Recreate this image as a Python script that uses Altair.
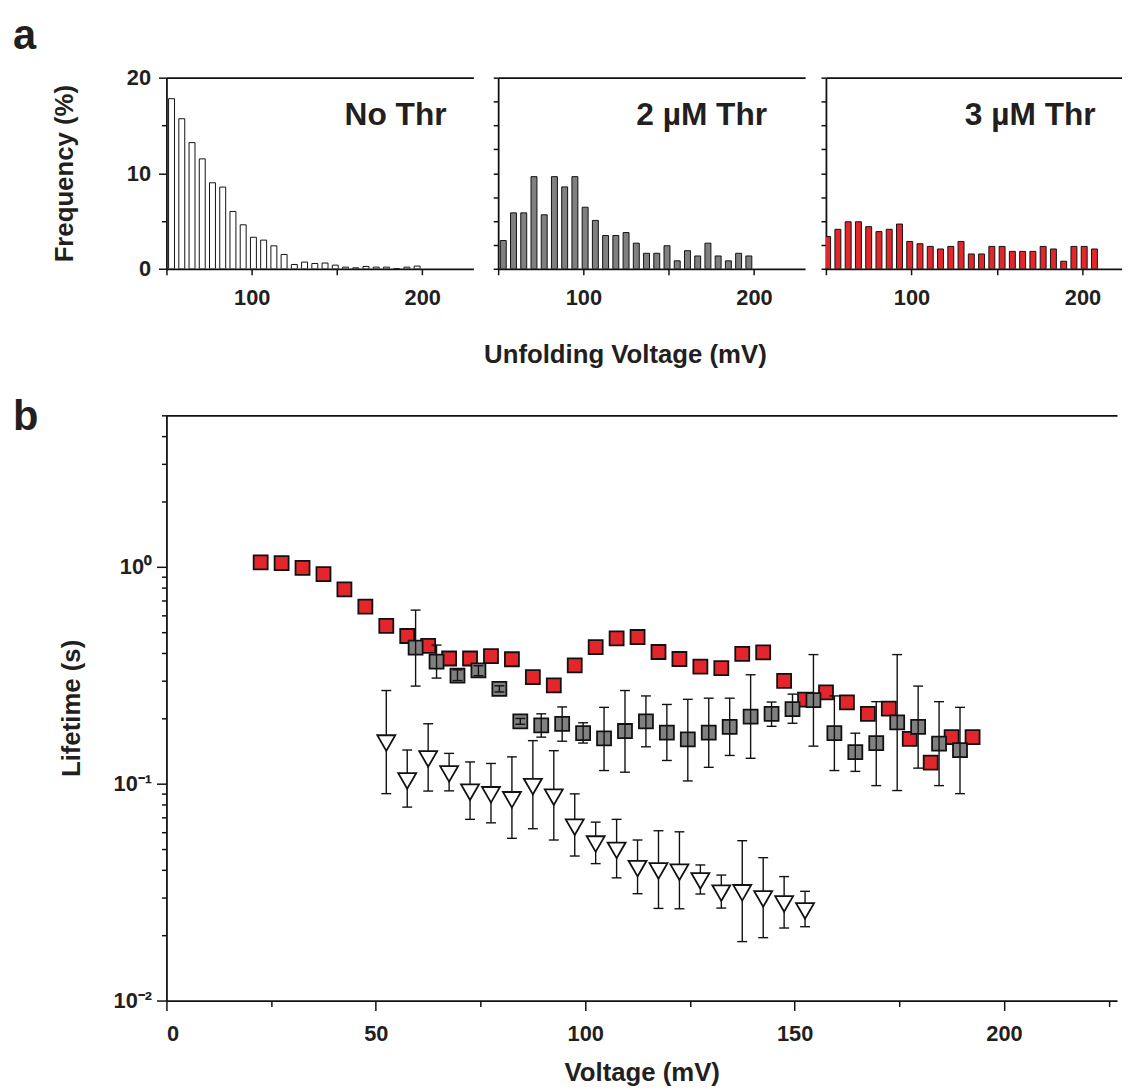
import altair as alt
import pandas as pd

FONT = "Liberation Sans"
INK = "#111111"
TXT = "#231f20"
RED = "#e3262b"
GRAY = "#808080"

# ---------------- panel a : histograms ----------------
centers_ab = [53, 59, 65, 71, 77, 83, 89, 95, 101, 107, 113, 119, 125, 131, 137,
              143, 149, 155, 161, 167, 173, 179, 185, 191, 197]
freq_no = [17.8, 15.7, 13.2, 11.5, 9.0, 8.55, 6.0, 4.6, 3.3, 3.0, 2.4, 1.5, 0.45,
           0.7, 0.55, 0.6, 0.38, 0.17, 0.1, 0.24, 0.17, 0.17, 0.0, 0.17, 0.28]
freq_2 = [2.96, 5.85, 5.85, 9.64, 5.65, 9.64, 8.57, 9.64, 6.44, 5.06, 3.48, 3.48,
          3.79, 2.68, 1.62, 1.62, 2.41, 0.83, 1.89, 1.34, 2.68, 1.34, 0.83, 1.62, 1.34]
centers_c = [51, 57, 63, 69, 75, 81, 87, 93, 99, 105, 111, 117, 123, 129, 135, 141,
             147, 153, 159, 165, 171, 177, 183, 189, 195, 201, 207]
freq_3 = [3.37, 4.13, 4.92, 4.92, 4.41, 3.89, 4.13, 4.68, 2.86, 2.62, 2.34, 2.07,
          2.34, 2.86, 1.55, 1.55, 2.34, 2.34, 1.82, 1.82, 1.82, 2.34, 2.07, 0.79,
          2.34, 2.34, 2.07]

# ---------------- panel b : lifetimes ----------------
red_v = [22.5, 27.5, 32.5, 37.5, 42.5, 47.5, 52.5, 57.5, 62.5, 67.5, 72.5, 77.5,
         82.5, 87.5, 92.5, 97.5, 102.5, 107.5, 112.5, 117.5, 122.5, 127.5, 132.5,
         137.5, 142.5, 147.5, 152.5, 157.5, 162.5, 167.5, 172.5, 177.5, 182.5,
         187.5, 192.5]
red_t = [1.05, 1.04, 0.99, 0.925, 0.787, 0.655, 0.534, 0.48, 0.432, 0.378, 0.378,
         0.388, 0.375, 0.31, 0.284, 0.351, 0.427, 0.468, 0.475, 0.405, 0.376, 0.347,
         0.341, 0.397, 0.403, 0.298, 0.244, 0.264, 0.237, 0.21, 0.222, 0.161, 0.125,
         0.164, 0.164]

gray_v = [59.5, 64.5, 69.5, 74.5, 79.5, 84.5, 89.5, 94.5, 99.5, 104.5, 109.5, 114.5,
          119.5, 124.5, 129.5, 134.5, 139.5, 144.5, 149.5, 154.5, 159.5, 164.5,
          169.5, 174.5, 179.5, 184.5, 189.5]
gray_t = [0.424, 0.366, 0.315, 0.333, 0.274, 0.194, 0.186, 0.189, 0.171, 0.162,
          0.175, 0.194, 0.172, 0.16, 0.172, 0.183, 0.204, 0.21, 0.221, 0.243, 0.171,
          0.14, 0.154, 0.192, 0.183, 0.153, 0.143]
gray_lo = [0.282, 0.307, 0.299, 0.315, 0.265, 0.188, 0.164, 0.157, 0.154, 0.115,
           0.113, 0.148, 0.128, 0.103, 0.119, 0.135, 0.131, 0.184, 0.19, 0.149,
           0.115, 0.114, 0.098, 0.093, 0.118, 0.098, 0.09]
gray_hi = [0.632, 0.436, 0.335, 0.35, 0.283, 0.2, 0.21, 0.226, 0.191, 0.225, 0.269,
           0.254, 0.232, 0.245, 0.248, 0.248, 0.318, 0.238, 0.259, 0.394, 0.254,
           0.171, 0.239, 0.394, 0.282, 0.239, 0.225]

tri_v = [52.5, 57.5, 62.5, 67.5, 72.5, 77.5, 82.5, 87.5, 92.5, 97.5, 102.5, 107.5,
         112.5, 117.5, 122.5, 127.5, 132.5, 137.5, 142.5, 147.5, 152.5]
tri_t = [0.154, 0.103, 0.13, 0.111, 0.0914, 0.0889, 0.0843, 0.097, 0.0867, 0.063,
         0.0527, 0.0493, 0.0406, 0.0396, 0.0391, 0.0356, 0.0313, 0.0314, 0.0294,
         0.0279, 0.0259]
tri_lo = [0.09, 0.078, 0.0925, 0.0927, 0.0685, 0.066, 0.056, 0.062, 0.055, 0.0464,
          0.0428, 0.0368, 0.0311, 0.0266, 0.0265, 0.031, 0.0267, 0.0187, 0.0195,
          0.0216, 0.0219]
tri_hi = [0.269, 0.143, 0.189, 0.138, 0.126, 0.124, 0.133, 0.158, 0.142, 0.0898,
          0.0665, 0.0685, 0.055, 0.0607, 0.06, 0.0422, 0.0379, 0.0546, 0.0456,
          0.0373, 0.0319]

x_ticks_b = [0, 25, 50, 75, 100, 125, 150, 175, 200, 225]
y_ticks_b = [0.01, 0.02, 0.03, 0.04, 0.05, 0.06, 0.07, 0.08, 0.09,
             0.1, 0.2, 0.3, 0.4, 0.5, 0.6, 0.7, 0.8, 0.9, 1, 2, 3, 4, 5]


def big_title(letter, dy):
    return alt.TitleParams(letter, anchor="start", frame="group", dx=-155, dy=dy,
                           font=FONT, fontSize=42, fontWeight="bold", color=TXT)


def hist_panel(centers, vals, fill, label, label_x, xmax, width,
               first=False, xtitle=None, title=None):
    df = pd.DataFrame({"v": centers, "f": vals})
    xs = alt.Scale(domain=[50, xmax], nice=False, zero=False, padding=0)
    ys = alt.Scale(domain=[0, 20], nice=False, padding=0)
    if first:
        yax = alt.Axis(values=[0, 5, 10, 15, 20],
                       labelExpr="datum.value % 10 === 0 ? datum.label : ''",
                       tickSize={"condition": {"test": "datum.value % 10 === 0", "value": 8},
                                 "value": 5},
                       labelPadding=8, title="Frequency (%)", titlePadding=49)
    else:
        yax = alt.Axis(values=[0, 2.5, 5, 7.5, 10, 12.5, 15, 17.5, 20], labels=False,
                       tickSize=5, title=None)
    xkw = dict(values=[50, 100, 150, 200],
               labelExpr="datum.value % 100 === 0 ? datum.label : ''",
               tickSize=6, labelPadding=13)
    if xtitle:
        xkw.update(title=xtitle, titleX=128, titleY=95, titleAlign="center",
                   titleBaseline="alphabetic")
    else:
        xkw.update(title=None)
    bars = alt.Chart(df).mark_bar(width=6, fill=fill, stroke=INK, strokeWidth=1,
                                  clip=True).encode(
        x=alt.X("v:Q", scale=xs, axis=alt.Axis(**xkw)),
        y=alt.Y("f:Q", scale=ys, axis=yax),
    )
    top = alt.Chart(df).mark_point(opacity=0).encode(
        x=alt.X("v:Q", scale=xs,
                axis=alt.Axis(orient="top", labels=False, ticks=False, title=None)),
        y=alt.Y("f:Q", scale=ys, axis=None),
    )
    txt = alt.Chart(pd.DataFrame({"t": [label]})).mark_text(
        align="right", baseline="alphabetic", font=FONT, fontSize=32,
        fontWeight="bold", color=TXT).encode(
        x=alt.XDatum(label_x, axis=None, scale=xs),
        y=alt.YDatum(15.0, axis=None, scale=ys),
        text="t:N",
    )
    props = dict(width=width, height=193)
    if title is not None:
        props["title"] = title
    return alt.layer(bars, top, txt).resolve_axis(
        x="independent", y="independent").properties(**props)


p1 = hist_panel(centers_ab, freq_no, "#ffffff", "No Thr", 214.3, 230, 310,
                first=True, title=big_title("a", -5))
p2 = hist_panel(centers_ab, freq_2, GRAY, "2 µM Thr", 207.7, 230, 310,
                xtitle="Unfolding Voltage (mV)")
p3 = hist_panel(centers_c, freq_3, RED, "3 µM Thr", 207.7, 223.1, 299)

row_a = alt.hconcat(alt.hconcat(p1, p2, spacing=10), p3, spacing=15)

# ---------------- panel b chart ----------------
df_red = pd.DataFrame({"v": red_v, "t": red_t})
df_gray = pd.DataFrame({"v": gray_v, "t": gray_t, "lo": gray_lo, "hi": gray_hi})
df_tri = pd.DataFrame({"v": tri_v, "t": tri_t, "lo": tri_lo, "hi": tri_hi})

xs_b = alt.Scale(domain=[0, 227], nice=False, zero=False, padding=0)
ys_b = alt.Scale(type="log", domain=[0.01, 5], nice=False)

major_y = ("abs(datum.value-1)<1e-9 || abs(datum.value-0.1)<1e-9 || "
           "abs(datum.value-0.01)<1e-9")
xax_b = alt.Axis(values=x_ticks_b,
                 labelExpr="datum.value % 50 === 0 ? datum.label : ''",
                 tickSize={"condition": {"test": "datum.value % 50 === 0", "value": 10},
                           "value": 6},
                 labelPadding=13, title="Voltage (mV)", titleY=81,
                 titleBaseline="alphabetic")
yax_b = alt.Axis(values=y_ticks_b,
                 labelExpr=("abs(datum.value-1)<1e-9 ? '10⁰' : "
                            "abs(datum.value-0.1)<1e-9 ? '10⁻¹' : "
                            "abs(datum.value-0.01)<1e-9 ? '10⁻²' : ''"),
                 tickSize={"condition": {"test": major_y, "value": 10}, "value": 5},
                 labelPadding=5, title="Lifetime (s)", titlePadding=29)


def X_none(f="v:Q"):
    return alt.X(f, scale=xs_b, axis=None)


def Y_none(f="t:Q"):
    return alt.Y(f, scale=ys_b, axis=None)


red_pts = alt.Chart(df_red).mark_point(shape="square", filled=True, fill=RED,
                                       stroke=INK, strokeWidth=1.8, size=200,
                                       opacity=1).encode(
    x=alt.X("v:Q", scale=xs_b, axis=xax_b),
    y=alt.Y("t:Q", scale=ys_b, axis=yax_b),
)
top_b = alt.Chart(df_red).mark_point(opacity=0).encode(
    x=alt.X("v:Q", scale=xs_b,
            axis=alt.Axis(orient="top", labels=False, ticks=False, title=None)),
    y=Y_none(),
)
gray_pts = alt.Chart(df_gray).mark_point(shape="square", filled=True, fill=GRAY,
                                         stroke=INK, strokeWidth=1.8, size=200,
                                         opacity=1).encode(x=X_none(), y=Y_none())


def errbars(df):
    bar = alt.Chart(df).mark_rule(color=INK, strokeWidth=1.4).encode(
        x=X_none(), y=Y_none("lo:Q"), y2="hi:Q")
    cap_lo = alt.Chart(df).mark_rule(color=INK, strokeWidth=1.4, xOffset=-5,
                                     x2Offset=5).encode(
        x=X_none(), x2="v:Q", y=Y_none("lo:Q"))
    cap_hi = alt.Chart(df).mark_rule(color=INK, strokeWidth=1.4, xOffset=-5,
                                     x2Offset=5).encode(
        x=X_none(), x2="v:Q", y=Y_none("hi:Q"))
    return [bar, cap_lo, cap_hi]


tri_pts = alt.Chart(df_tri).mark_point(shape="triangle-down", filled=True,
                                       fill="#ffffff", stroke=INK, strokeWidth=1.8,
                                       size=330, opacity=1).encode(x=X_none(), y=Y_none())

pb = alt.layer(red_pts, top_b, gray_pts, *errbars(df_gray), *errbars(df_tri),
               tri_pts).resolve_axis(x="independent", y="independent").properties(
    width=960, height=591, title=big_title("b", 29))

chart = alt.vconcat(row_a, pb, spacing=29).properties(
    padding={"left": 5, "top": 2, "right": 0, "bottom": 0},
    background="white",
).configure_view(stroke=None).configure_axis(
    grid=False,
    domainColor=INK, domainWidth=1.8,
    tickColor=INK, tickWidth=1.5,
    labelFont=FONT, labelFontSize=22, labelFontWeight="bold", labelColor=TXT,
    titleFont=FONT, titleFontSize=26, titleFontWeight="bold", titleColor=TXT,
)

chart.save("out.html", embed_options={"renderer": "svg", "actions": False})
